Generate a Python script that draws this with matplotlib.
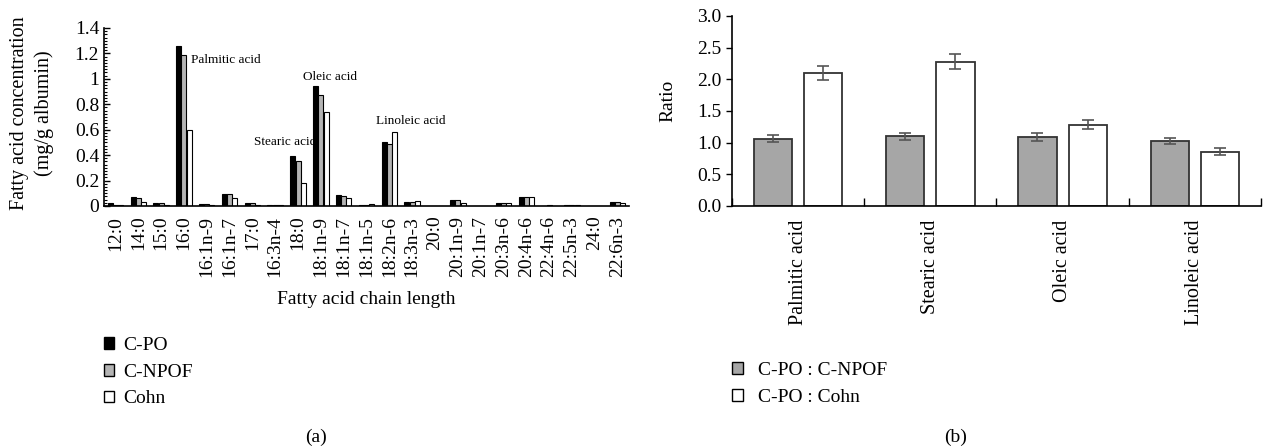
import numpy as np
import matplotlib
matplotlib.use('Agg')
import matplotlib.pyplot as plt
from matplotlib.patches import Patch
from matplotlib.ticker import MultipleLocator, FuncFormatter, FixedLocator

plt.rcParams['font.family'] = ['Liberation Serif', 'DejaVu Serif']
plt.rcParams['font.size'] = 14

# panel (a): fatty acid concentration (mg/g albumin)
chains = ['12:0', '14:0', '15:0', '16:0', '16:1n-9', '16:1n-7', '17:0', '16:3n-4',
          '18:0', '18:1n-9', '18:1n-7', '18:1n-5', '18:2n-6', '18:3n-3', '20:0',
          '20:1n-9', '20:1n-7', '20:3n-6', '20:4n-6', '22:4n-6', '22:5n-3', '24:0', '22:6n-3']
c_po = [0.02, 0.068, 0.02, 1.26, 0.015, 0.095, 0.02, 0.01, 0.39, 0.945, 0.087, 0.01,
        0.505, 0.035, 0.0, 0.045, 0.0, 0.02, 0.07, 0.0, 0.01, 0.0, 0.03]
c_npof = [0.01, 0.06, 0.02, 1.19, 0.015, 0.092, 0.02, 0.01, 0.355, 0.87, 0.08, 0.01,
          0.49, 0.035, 0.0, 0.045, 0.0, 0.025, 0.07, 0.005, 0.01, 0.003, 0.032]
cohn = [0.005, 0.03, 0.01, 0.60, 0.01, 0.063, 0.01, 0.008, 0.18, 0.74, 0.066, 0.015,
        0.585, 0.04, 0.0, 0.02, 0.0, 0.02, 0.07, 0.0, 0.01, 0.0, 0.02]
series_a = ['C-PO', 'C-NPOF', 'Cohn']
peak_names = ['Palmitic acid', 'Stearic acid', 'Oleic acid', 'Linoleic acid']
peak_pos = [(3.32, 1.15), (6.08, 0.50), (8.22, 1.015), (11.42, 0.67)]

# panel (b): ratios
acids = ['Palmitic acid', 'Stearic acid', 'Oleic acid', 'Linoleic acid']
ratio_npof = [1.06, 1.10, 1.09, 1.03]
err_npof = [0.055, 0.055, 0.058, 0.05]
ratio_cohn = [2.10, 2.28, 1.28, 0.86]
err_cohn = [0.105, 0.12, 0.07, 0.05]
series_b = ['C-PO : C-NPOF', 'C-PO : Cohn']

fig = plt.figure(figsize=(12.64, 4.48), dpi=100)

############ (a)
ax1 = fig.add_axes([0.0823, 0.5402, 0.4153, 0.3973])
x = np.arange(len(chains))
w = 0.22
cols = ['black', '#b4b4b4', 'white']
for k, (vals, c) in enumerate(zip([c_po, c_npof, cohn], cols)):
    ax1.bar(x + (k - 1) * 0.23, vals, w, color=c, edgecolor='black', linewidth=0.8)
ax1.set_xlim(-0.5, len(chains) - 0.5)
ax1.set_ylim(0, 1.4)
ax1.set_xticks(x)
ax1.set_xticklabels(chains, rotation=90)
ax1.tick_params(axis='x', length=0, pad=7)
ax1.yaxis.set_major_locator(MultipleLocator(0.2))
ax1.yaxis.set_minor_locator(MultipleLocator(0.025))
ax1.yaxis.set_major_formatter(FuncFormatter(lambda v, p: '{:g}'.format(round(v, 2))))
ax1.tick_params(axis='y', which='major', direction='in', length=4, width=1)
ax1.tick_params(axis='y', which='minor', direction='in', length=2, width=0.8)
for s in ['top', 'right']:
    ax1.spines[s].set_visible(False)
ax1.spines['left'].set_linewidth(1.2)
ax1.spines['bottom'].set_linewidth(1.2)
ax1.set_ylabel('Fatty acid concentration\n(mg/g albumin)', va='center', linespacing=1.35,
               fontsize=14.5)
ax1.yaxis.set_label_coords(-0.137, 0.52)
ax1.set_xlabel('Fatty acid chain length', va='center')
ax1.xaxis.set_label_coords(0.5, -0.528)
for name, (px, py) in zip(peak_names, peak_pos):
    ax1.text(px, py, name, fontsize=9.5, ha='left', va='center')

handles_a = [Patch(facecolor=c, edgecolor='black', linewidth=1) for c in cols]
fig.legend(handles_a, series_a, loc='upper left', bbox_to_anchor=(0.082, 0.2486),
           frameon=False, handlelength=0.55, handleheight=0.55, handletextpad=0.45,
           labelspacing=0.51, borderpad=0, borderaxespad=0, fontsize=14)

############ (b)
ax2 = fig.add_axes([0.5791, 0.5402, 0.4185, 0.4241])
xb = np.arange(len(acids))
bw = 0.29
ax2.bar(xb - 0.19, ratio_npof, bw, color='#a6a6a6', edgecolor='#333333', linewidth=1.3,
        yerr=err_npof, error_kw=dict(ecolor='#555555', capsize=4, elinewidth=1.2, capthick=1.2))
ax2.bar(xb + 0.19, ratio_cohn, bw, color='white', edgecolor='#333333', linewidth=1.3,
        yerr=err_cohn, error_kw=dict(ecolor='#555555', capsize=4, elinewidth=1.2, capthick=1.2))
ax2.set_xlim(-0.5, len(acids) - 0.5)
ax2.set_ylim(0, 3.0)
ax2.yaxis.set_major_locator(MultipleLocator(0.5))
ax2.yaxis.set_major_formatter(FuncFormatter(lambda v, p: '%.1f' % v))
ax2.tick_params(axis='y', direction='out', length=4, width=1)
ax2.xaxis.set_major_locator(FixedLocator(np.arange(len(acids) + 1) - 0.5))
ax2.xaxis.set_minor_locator(FixedLocator(xb))
ax2.set_xticklabels([], minor=False)
ax2.set_xticklabels(acids, minor=True, rotation=90, fontsize=14.5)
ax2.tick_params(axis='x', which='major', direction='in', length=6, width=1)
ax2.tick_params(axis='x', which='minor', length=0, pad=10)
for s in ['top', 'right']:
    ax2.spines[s].set_visible(False)
ax2.spines['left'].set_linewidth(1.2)
ax2.spines['bottom'].set_linewidth(1.2)
ax2.set_ylabel('Ratio', va='center')
ax2.yaxis.set_label_coords(-0.121, 0.553)

handles_b = [Patch(facecolor=c, edgecolor='black', linewidth=1) for c in ['#a6a6a6', 'white']]
fig.legend(handles_b, series_b, loc='upper left', bbox_to_anchor=(0.579, 0.1916),
           frameon=False, handlelength=0.55, handleheight=0.55, handletextpad=0.8,
           labelspacing=0.51, borderpad=0, borderaxespad=0, fontsize=14)

fig.text(316 / 1264, 1 - 437 / 448, '(a)', ha='center', va='center', fontsize=14)
fig.text(956 / 1264, 1 - 437 / 448, '(b)', ha='center', va='center', fontsize=14)

fig.savefig('out.png', dpi=100)
